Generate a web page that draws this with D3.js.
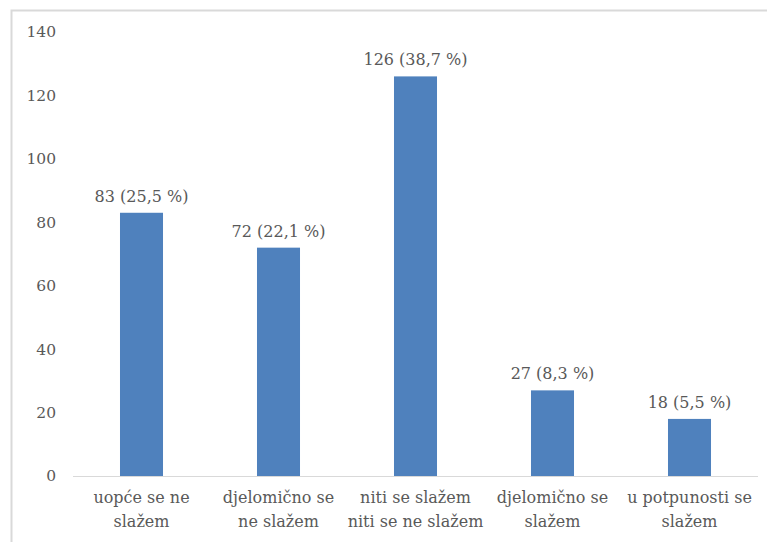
<!DOCTYPE html>
<html>
<head>
<meta charset="utf-8">
<script src="https://cdn.jsdelivr.net/npm/d3@7"></script>
<style>
  body { margin: 0; background: #fff; }
  text { font-family: 'DejaVu Serif', serif; fill: #595959; }
</style>
</head>
<body>
<div id="chart"></div>
<script>
const categories = [
  ['uopće se ne', 'slažem'],
  ['djelomično se', 'ne slažem'],
  ['niti se slažem', 'niti se ne slažem'],
  ['djelomično se', 'slažem'],
  ['u potpunosti se', 'slažem']
]
const counts = [83, 72, 126, 27, 18]
const percents = ['25,5', '22,1', '38,7', '8,3', '5,5']
const yTicks = [0, 20, 40, 60, 80, 100, 120, 140]

const width = 767,
      height = 542

const svg = d3.select('#chart')
  .append('svg')
  .attr('width', width)
  .attr('height', height)

// chart frame, runs off the right and bottom edge
svg.append('rect')
  .attr('x', 11.5)
  .attr('y', 10.5)
  .attr('width', 800)
  .attr('height', 600)
  .attr('fill', 'none')
  .attr('stroke', '#d9d9d9')
  .attr('stroke-width', 2)

const x = d3.scaleBand()
  .domain(d3.range(counts.length))
  .range([73, 758])
  .paddingInner(0.686)
  .paddingOuter(0.343)

const y = d3.scaleLinear()
  .domain([0, 140])
  .range([476, 32])

svg.selectAll('.ytick')
  .data(yTicks)
  .enter()
  .append('text')
  .attr('class', 'ytick')
  .attr('x', 56)
  .attr('y', d => y(d))
  .attr('dy', '0.35em')
  .attr('text-anchor', 'end')
  .style('font-size', '15.5px')
  .text(d => d)

svg.selectAll('.bar')
  .data(counts)
  .enter()
  .append('rect')
  .attr('class', 'bar')
  .attr('x', (d, i) => x(i))
  .attr('y', d => y(d))
  .attr('width', x.bandwidth())
  .attr('height', d => y(0) - y(d))
  .attr('fill', '#4f81bd')

svg.append('line')
  .attr('x1', 73)
  .attr('x2', 758)
  .attr('y1', y(0) + 0.5)
  .attr('y2', y(0) + 0.5)
  .attr('stroke', '#d9d9d9')
  .attr('stroke-width', 1)

svg.selectAll('.label')
  .data(counts)
  .enter()
  .append('text')
  .attr('class', 'label')
  .attr('x', (d, i) => x(i) + x.bandwidth() / 2)
  .attr('y', d => y(d) - 11)
  .attr('text-anchor', 'middle')
  .style('font-size', '16px')
  .text((d, i) => d + ' (' + percents[i] + ' %)')

const cat = svg.selectAll('.cat')
  .data(categories)
  .enter()
  .append('text')
  .attr('class', 'cat')
  .attr('text-anchor', 'middle')
  .style('font-size', '16px')

cat.selectAll('tspan')
  .data((d, i) => d.map(t => ({t: t, i: i})))
  .enter()
  .append('tspan')
  .attr('x', d => x(d.i) + x.bandwidth() / 2)
  .attr('y', (d, j) => 503 + j * 24)
  .text(d => d.t)
</script>
</body>
</html>
